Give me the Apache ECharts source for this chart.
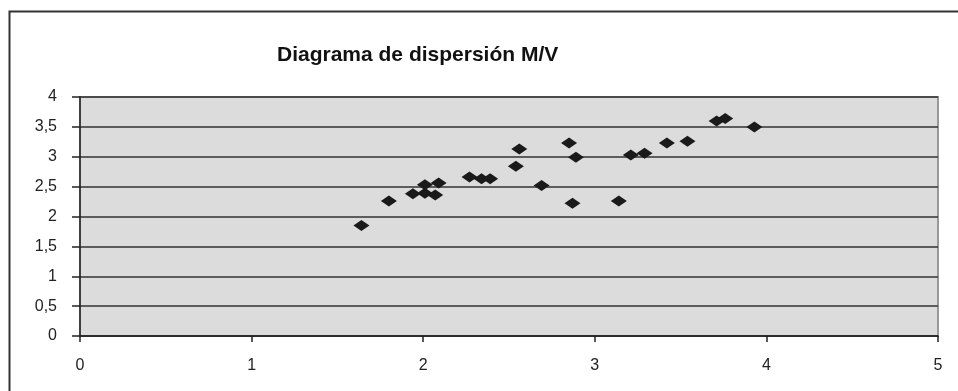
<!DOCTYPE html>
<html>
<head>
<meta charset="utf-8">
<script src="https://cdn.jsdelivr.net/npm/echarts@6/dist/echarts.min.js"></script>
<style>html,body{margin:0;padding:0;background:#fff}#c{width:958px;height:391px}</style>
</head>
<body>
<div id="c"></div>
<script>
var titleText = 'Diagrama de dispersión M/V';
var xValues = [1.64, 1.80, 1.94, 2.01, 2.01, 2.07, 2.09, 2.27, 2.34, 2.39, 2.54, 2.56, 2.69, 2.85, 2.89, 2.87, 3.14, 3.21, 3.29, 3.42, 3.54, 3.71, 3.76, 3.93];
var yValues = [1.85, 2.26, 2.38, 2.39, 2.53, 2.36, 2.56, 2.66, 2.63, 2.63, 2.84, 3.13, 2.52, 3.23, 2.99, 2.22, 2.26, 3.03, 3.06, 3.23, 3.26, 3.60, 3.64, 3.50];
var xTicks = [0, 1, 2, 3, 4, 5];
var yTicks = [0, 0.5, 1, 1.5, 2, 2.5, 3, 3.5, 4];

var points = xValues.map(function (x, i) { return [x, yValues[i]]; });
var fmt = function (v) { return String(v).replace('.', ','); };
var font = '"Liberation Sans", Arial, sans-serif';

var chart = echarts.init(document.getElementById('c'), null, { renderer: 'canvas' });
chart.setOption({
  animation: false,
  backgroundColor: '#fff',
  graphic: [{
    type: 'rect', left: 7, top: 9, z: -1,
    shape: { width: 980, height: 420 },
    style: { fill: 'none', stroke: '#333', lineWidth: 2 }
  }],
  title: {
    text: titleText, left: 272, top: 40,
    textStyle: { fontFamily: font, fontSize: 21, fontWeight: 'bold', color: '#111' }
  },
  grid: {
    left: 80, right: 20, top: 97, bottom: 55,
    show: true, backgroundColor: '#dcdcdc', borderColor: '#999', borderWidth: 2
  },
  xAxis: {
    type: 'value', min: xTicks[0], max: xTicks[xTicks.length - 1], interval: 1,
    axisLine: { show: true, lineStyle: { color: '#222', width: 1.5 } },
    axisTick: { show: true, length: 6, lineStyle: { color: '#222', width: 1.5 } },
    splitLine: { show: false },
    axisLabel: { margin: 22, color: '#222', fontFamily: font, fontSize: 16, formatter: fmt }
  },
  yAxis: {
    type: 'value', min: yTicks[0], max: yTicks[yTicks.length - 1], interval: 0.5,
    axisLine: { show: true, lineStyle: { color: '#222', width: 1.5 } },
    axisTick: { show: true, length: 8, lineStyle: { color: '#222', width: 1.5 } },
    splitLine: { show: true, lineStyle: { color: '#333', width: 1.5 } },
    axisLabel: { margin: 23, color: '#222', fontFamily: font, fontSize: 16, formatter: fmt }
  },
  series: [{
    type: 'scatter', data: points, symbol: 'diamond', symbolSize: [16, 11],
    itemStyle: { color: '#1a1a1a', opacity: 1 }
  }]
});
</script>
</body>
</html>
